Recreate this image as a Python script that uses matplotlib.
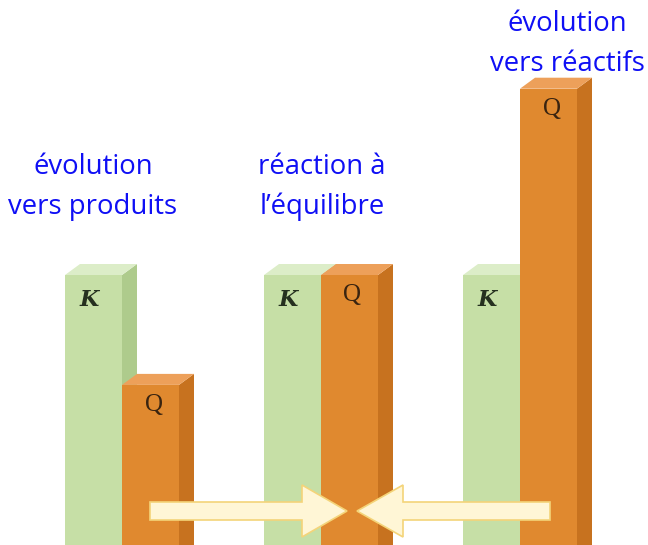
import matplotlib
matplotlib.use("Agg")
import matplotlib.pyplot as plt
from matplotlib.patches import Polygon, FancyArrow

# ---- data ----
groups = ["évolution\nvers produits", "réaction à\nl’équilibre", "évolution\nvers réactifs"]
K_values = [1.0, 1.0, 1.0]
Q_values = [0.593, 1.0, 1.69]
bar_labels = ["K", "Q"]

# ---- style / layout ----
W, H = 648, 545
unit_px = 270.0                 # pixels per value unit
group_split = [122, 321, 520]   # x where K meets Q
k_width, q_width = 57, 57
dx, dy = 15, 11 / unit_px       # depth of 3-D faces

green = dict(front="#c6dfa6", side="#aecb8c", top="#dcedc8")
orange = dict(front="#e0892f", side="#c7721f", top="#eda05a")

fig = plt.figure(figsize=(W / 100, H / 100), dpi=100)
ax = fig.add_axes([0, 0, 1, 1])
ax.set_xlim(0, W)
ax.set_ylim(0, H / unit_px)
ax.axis("off")


def bar3d(xc, width, h, col, z):
    x0, x1 = xc - width / 2, xc + width / 2
    ax.add_patch(Polygon([(x1, -0.1), (x1, h), (x1 + dx, h + dy), (x1 + dx, -0.1)],
                         closed=True, facecolor=col["side"], edgecolor="none", zorder=z))
    ax.add_patch(Polygon([(x0, h), (x1, h), (x1 + dx, h + dy), (x0 + dx, h + dy)],
                         closed=True, facecolor=col["top"], edgecolor="none", zorder=z))
    ax.bar([xc], [h], width=width, color=col["front"], edgecolor="none", zorder=z + 0.5)


for i, s in enumerate(group_split):
    kc = s - k_width / 2
    qc = s + q_width / 2
    bar3d(kc, k_width, K_values[i], green, 2 + i * 2)
    bar3d(qc, q_width, Q_values[i], orange, 3 + i * 2)
    ax.text(kc - 4, K_values[i] - 25 / unit_px, bar_labels[0], ha="center", va="center",
            fontsize=16, fontfamily="DejaVu Serif", style="italic", fontweight="bold",
            color="#25301f", zorder=20)
    ax.text(qc + 3, Q_values[i] - 20 / unit_px, bar_labels[1], ha="center", va="center",
            fontsize=18, fontfamily="Liberation Serif", color="#3a2410", zorder=20)

# arrows
ay = (545 - 511) / unit_px
ax.add_patch(FancyArrow(150, ay, 197, 0, width=18 / unit_px, head_width=52 / unit_px,
                        head_length=45, length_includes_head=True,
                        facecolor="#fff6d6", edgecolor="#f4d479", lw=1.2, zorder=30))
ax.add_patch(FancyArrow(550, ay, -193, 0, width=18 / unit_px, head_width=52 / unit_px,
                        head_length=46, length_includes_head=True,
                        facecolor="#fff6d6", edgecolor="#f4d479", lw=1.2, zorder=30))

# captions
text_pos = [(93, 187), (322, 187), (567, 44)]
for (tx, ty), t in zip(text_pos, groups):
    fig.text(tx / W, 1 - ty / H, t, ha="center", va="center", fontsize=19.8,
             fontfamily="Open Sans", color="#0f0ff5", linespacing=1.58)

fig.savefig("out.png", dpi=100)
